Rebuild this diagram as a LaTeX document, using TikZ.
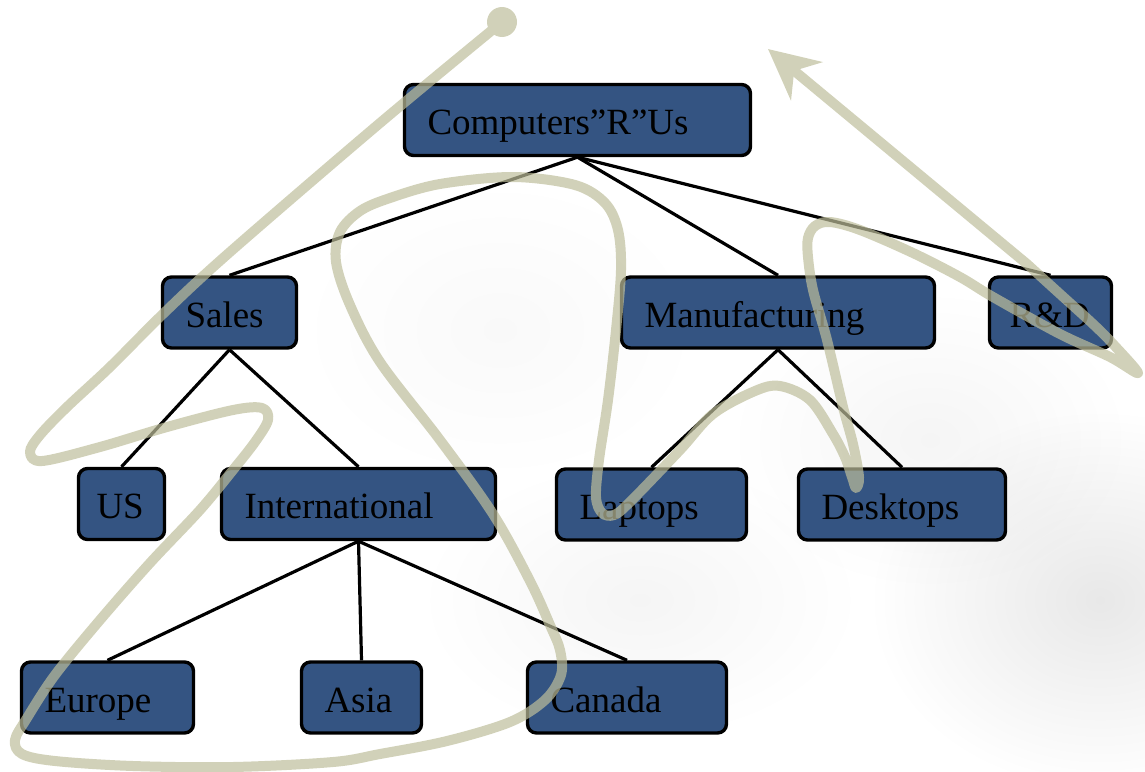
\documentclass[tikz,border=0pt]{standalone}
\usepackage{fontspec}
\setmainfont{Liberation Serif}
\usetikzlibrary{arrows.meta,backgrounds,fadings}
\definecolor{boxblue}{RGB}{52,84,130}
\definecolor{tourcol}{RGB}{190,190,155}
\tikzfading[name=softspot, inner color=transparent!0, outer color=transparent!100]
\tikzset{
  orgbox/.style={draw=black, line width=3.4pt, fill=boxblue, rounded corners=9pt,
    inner xsep=23pt, inner ysep=0pt, text height=50pt, text depth=21pt,
    align=left, font=\fontsize{37pt}{44pt}\selectfont},
  link/.style={draw=black, line width=3.2pt},
  tour/.style={draw=tourcol, line width=10pt, line cap=round, line join=round},
  haze/.style={fill=black, path fading=softspot}
}
\begin{document}
\begin{tikzpicture}[x=1pt, y=-1pt]
\useasboundingbox (0,0) rectangle (1145,771);

% organisation chart
\node[orgbox, text width=300pt] (root)   at (577.5,120)  {Computers”R”Us};
\node[orgbox, text width=88pt]  (sales)  at (229.5,312.5) {Sales};
\node[orgbox, text width=267pt] (manu)   at (778,312.5)   {Manufacturing};
\node[orgbox, text width=82pt, inner xsep=20pt] (rd) at (1050.5,312.5) {R\&D};
\node[orgbox, text width=50pt, inner xsep=18pt] (us) at (121.5,504) {US};
\node[orgbox, text width=228pt] (intl)   at (358.5,504)   {International};
\node[orgbox, text width=144pt] (lap)    at (651.5,504.5) {Laptops};
\node[orgbox, text width=161pt] (desk)   at (902,504.5)   {Desktops};
\node[orgbox, text width=126pt] (europe) at (107.5,697.5) {Europe};
\node[orgbox, text width=74pt]  (asia)   at (361.5,697.5) {Asia};
\node[orgbox, text width=153pt] (canada) at (627,697.5)   {Canada};

\begin{scope}[on background layer]
  % soft grey shadows on the page
  \path[haze, opacity=0.09] (1100,600) ellipse [x radius=230pt, y radius=190pt];
  \path[haze, opacity=0.04] (640,600) ellipse [x radius=220pt, y radius=140pt];
  \path[haze, opacity=0.025] (500,330) ellipse [x radius=200pt, y radius=150pt];
  \path[haze, opacity=0.04] (930,440) ellipse [x radius=200pt, y radius=150pt];
  % tree links
  \draw[link] (root.south) -- (sales.north);
  \draw[link] (root.south) -- (manu.north);
  \draw[link] (root.south) -- (rd.north);
  \draw[link] (sales.south) -- (us.north);
  \draw[link] (sales.south) -- (intl.north);
  \draw[link] (intl.south) -- (europe.north);
  \draw[link] (intl.south) -- (asia.north);
  \draw[link] (intl.south) -- (canada.north);
  \draw[link] (manu.south) -- (lap.north);
  \draw[link] (manu.south) -- (desk.north);
\end{scope}

% Euler tour around the tree
\coordinate (tourstart) at (502,22);
\coordinate (tourend) at (768,49);
\begin{scope}[transparency group, opacity=0.7]
  \fill[tourcol] (tourstart) circle[radius=15pt];
  \draw[tour, -{Stealth[length=50pt, width=49pt, inset=16pt]}]
    plot[smooth, tension=0.55] coordinates {
      (502,22) (380,123) (230,252) (165,312) (110,367) (67,407) (40,435)
      (30,452) (42,461) (100,447) (167,427) (233,410) (262,408) (268,420)
      (255,442) (233,470) (200,510) (150,563) (100,620) (55,675) (27,718)
      (15,740) (22,754) (55,761) (133,766) (233,767) (333,762) (380,754)
      (447,741) (510,722) (545,700) (561,675) (560,650) (550,625) (530,581)
      (493,514) (440,440) (380,362) (350,305) (336,262) (340,232) (360,211)
      (390,198) (440,184) (513,177) (575,185) (605,203) (618,230) (621,270)
      (616,330) (608,400) (599,460) (596,497) (602,513) (614,515) (630,502)
      (680,450) (713,414) (755,391) (780,386) (810,400) (833,434) (845,457)
      (852,477) (856,488) (859,477) (853,444) (843,407) (827,340) (813,290)
      (808,257) (808,238) (815,226) (830,222) (860,230) (913,253) (960,277)
      (993,297) (1060,334) (1110,357) (1138,373) (1113,344) (1093,324)
      (1060,294) (1027,264)}
    -- (tourend);
\end{scope}
\end{tikzpicture}
\end{document}
